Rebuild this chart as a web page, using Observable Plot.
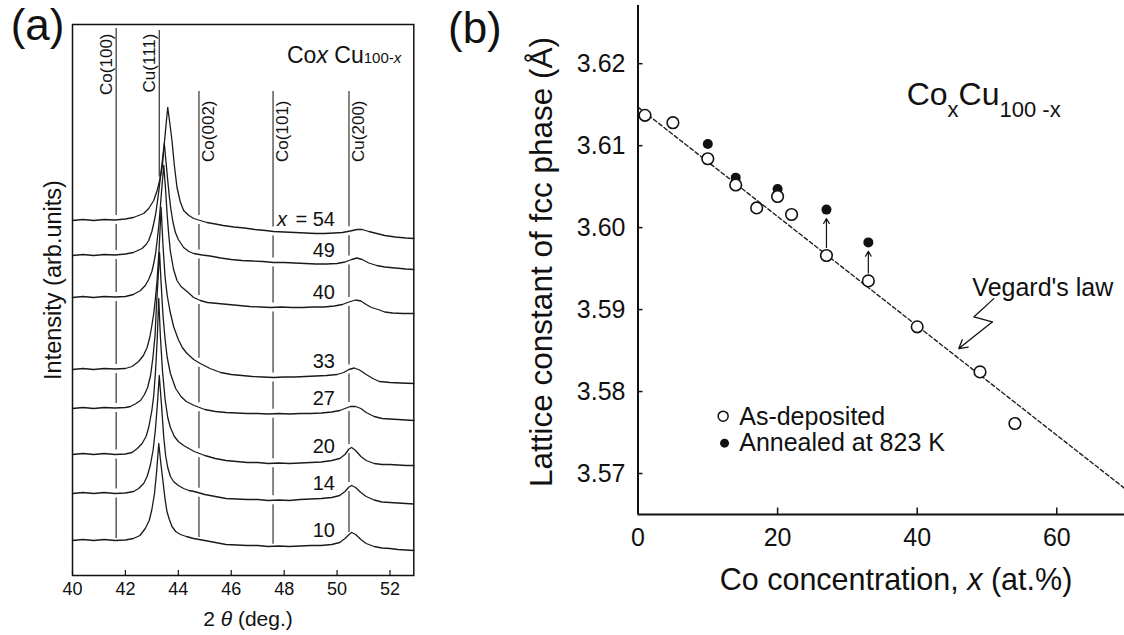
<!DOCTYPE html>
<html><head><meta charset="utf-8">
<script src="https://cdn.jsdelivr.net/npm/d3@7"></script>
<script src="https://cdn.jsdelivr.net/npm/@observablehq/plot@0.6"></script>
<style>
body{margin:0;background:#fff;}
#wrap{position:relative;width:1124px;height:635px;overflow:hidden;background:#fff;}
#pa{position:absolute;left:0;top:0;}
#pb{position:absolute;left:430px;top:0;}
</style></head><body>
<div id="wrap"><div id="pa"></div><div id="pb"></div></div>
<script>
const FONT = '"Liberation Sans", Arial, Helvetica, sans-serif';

// ---------- Panel (a): XRD patterns, [2theta, intensity (arb.)] ----------
const samples = [54, 49, 40, 33, 27, 20, 14, 10];
const xrd54 = [[40,355],[40.4,356],[40.8,355],[41.2,356],[41.6,355.5],[42,356.5],[42.3,358],[42.69,362],[42.88,367],[43.07,375],[43.2,385],[43.32,398],[43.4,410],[43.47,432],[43.54,452],[43.6,468],[43.68,452],[43.76,435],[43.85,410],[43.95,388],[44.07,374],[44.2,365],[44.4,360],[44.58,357],[44.83,355],[45.08,353],[45.4,351.5],[45.7,350],[46.1,348.5],[46.5,347.5],[46.9,346],[47.3,345],[47.6,344],[48,343.5],[48.4,343],[48.8,342.5],[49.2,342],[49.5,342],[49.9,342.5],[50.2,343],[50.5,344.5],[50.75,346],[50.95,346],[51.2,344],[51.5,342],[51.8,340],[52.2,338.5],[52.6,337.5],[52.9,337]];
const xrd49 = [[40,320],[40.4,321],[40.8,320],[41.2,321],[41.6,320.5],[42,321.5],[42.3,323],[42.63,327],[42.78,331],[42.88,335],[43,344],[43.07,352],[43.14,361],[43.2,372],[43.27,386],[43.33,400],[43.4,416],[43.47,432],[43.54,412],[43.6,395],[43.66,379],[43.72,366],[43.8,353],[43.89,343],[44,336],[44.2,328],[44.4,324],[44.58,322],[44.9,320.5],[45.2,319.5],[45.6,317.5],[46,316],[46.4,315],[46.8,314.5],[47.2,314],[47.6,313],[48,313],[48.4,312.5],[48.8,312],[49.2,311.5],[49.6,311.5],[50,312],[50.3,313.5],[50.55,316],[50.75,317.5],[50.95,316],[51.2,312.5],[51.5,310],[51.8,308.5],[52.2,307.5],[52.6,306.5],[52.9,306]];
const xrd40 = [[40,278],[40.4,279],[40.8,278],[41.2,279],[41.6,278.5],[42,279],[42.3,281],[42.57,285],[42.75,290],[42.88,296],[43,304],[43.07,312],[43.14,322],[43.2,335],[43.27,352],[43.33,372],[43.39,392],[43.45,410],[43.52,385],[43.58,360],[43.64,340],[43.7,324],[43.82,306],[43.95,295],[44.1,289],[44.33,284],[44.58,278],[44.83,275],[45.1,273],[45.5,272],[45.9,271],[46.3,270],[46.7,269],[47.1,268.5],[47.5,268],[47.9,268.5],[48.3,268],[48.7,268],[49.1,268.5],[49.5,268.5],[49.9,269.5],[50.2,271],[50.45,273.5],[50.7,275.5],[50.9,274.5],[51.1,271],[51.3,268],[51.55,266],[51.8,263.5],[52.1,262.5],[52.5,262],[52.9,262]];
const xrd33 = [[40,206],[40.4,207],[40.8,206],[41.2,207],[41.6,206.5],[42,207],[42.25,209],[42.5,214],[42.68,220],[42.82,228],[42.92,238],[43,250],[43.07,262],[43.13,276],[43.2,296],[43.27,325],[43.35,368],[43.42,330],[43.5,298],[43.58,280],[43.68,265],[43.82,249],[44,236],[44.15,228],[44.33,222],[44.58,216],[44.83,212],[45.2,207],[45.6,203],[46,201],[46.4,200],[46.8,199],[47.2,198.5],[47.6,198],[48,198.5],[48.4,198.5],[48.8,199],[49.2,199.5],[49.6,200],[50,201],[50.25,203],[50.45,206],[50.65,207.5],[50.85,205.5],[51.1,201],[51.35,197],[51.6,194],[52,193],[52.4,192.5],[52.9,192]];
const xrd27 = [[40,167],[40.4,168],[40.8,167],[41.2,168],[41.6,167.5],[42,168],[42.19,169],[42.4,172],[42.57,175],[42.72,181],[42.84,188],[42.95,200],[43.04,218],[43.12,240],[43.17,268],[43.23,295],[43.29,323],[43.35,292],[43.42,260],[43.5,236],[43.58,218],[43.7,202],[43.9,187],[44.1,179],[44.3,174],[44.6,170],[45,166],[45.4,164],[45.8,163],[46.2,162.5],[46.6,162],[47,162],[47.4,161.5],[47.8,162],[48.2,161.5],[48.6,162],[49,162],[49.4,162.5],[49.8,163.5],[50.1,165],[50.3,167],[50.5,169],[50.7,169],[50.9,167],[51.1,163],[51.4,159],[51.7,157],[52,156.5],[52.3,156],[52.6,155.5],[52.9,155]];
const xrd20 = [[40,121],[40.4,122],[40.8,121],[41.2,122],[41.6,121],[42,121.5],[42.25,123],[42.45,127],[42.63,132],[42.78,139],[42.88,148],[43,165],[43.07,180],[43.14,205],[43.2,235],[43.26,277],[43.32,240],[43.4,205],[43.5,176],[43.6,158],[43.7,148],[43.85,139],[44,134],[44.2,130],[44.4,127],[44.6,124],[45,120],[45.4,117],[45.8,115],[46.2,114],[46.6,113],[47,113],[47.4,112],[47.8,112.5],[48.2,112],[48.6,112.5],[49,113],[49.4,113.5],[49.8,115],[50.1,117],[50.3,121],[50.45,126.5],[50.55,128],[50.7,125],[50.9,119],[51.1,115],[51.4,112],[51.7,111],[52,111],[52.3,110.5],[52.6,110],[52.9,110]];
const xrd14 = [[40,82],[40.4,83],[40.8,82],[41.2,83],[41.6,82],[42,82.5],[42.31,84],[42.5,87],[42.69,92],[42.82,99],[42.94,110],[43.05,126],[43.13,145],[43.2,168],[43.28,200],[43.36,172],[43.45,138],[43.52,120],[43.6,108],[43.7,99],[43.82,94],[44,90],[44.2,87],[44.4,85],[44.6,84],[45,81],[45.4,79],[45.8,77],[46.2,76.5],[46.6,76],[47,76],[47.4,75],[47.8,75.5],[48.2,75],[48.6,76],[49,76.5],[49.4,77],[49.8,78],[50.1,80],[50.3,84],[50.45,88.5],[50.55,90],[50.7,88],[50.9,83],[51.1,79],[51.4,75.5],[51.7,73.5],[52,73],[52.3,72.5],[52.6,72],[52.9,71.5]];
const xrd10 = [[40,35],[40.4,36],[40.8,35],[41.2,36],[41.6,35],[42,35.5],[42.3,37],[42.55,40],[42.75,47],[42.9,55],[43,66],[43.1,82],[43.18,104],[43.26,132],[43.34,112],[43.42,94],[43.5,76],[43.57,64],[43.66,56],[43.76,49],[43.9,44],[44.08,41],[44.3,39],[44.58,37],[45,35],[45.4,33],[45.8,31],[46.2,30.5],[46.6,30],[47,30],[47.4,29],[47.8,29.5],[48.2,29],[48.6,29.5],[49,30],[49.4,30],[49.8,31],[50.1,33],[50.3,37],[50.45,41],[50.55,43],[50.7,41],[50.9,36],[51.1,32],[51.4,29],[51.7,27.5],[52,27],[52.3,26],[52.6,25.5],[52.9,25]];
const xrdCurves = [xrd54, xrd49, xrd40, xrd33, xrd27, xrd20, xrd14, xrd10];
const refPeaks = ["Co(100)", "Cu(111)", "Co(002)", "Co(101)", "Cu(200)"];
const refPos = [41.65, 43.28, 44.78, 47.58, 50.45];
const ticksA = [40, 42, 44, 46, 48, 50, 52];

// ---------- Panel (b): lattice constant vs Co concentration ----------
const coConc = [1, 5, 10, 14, 17, 20, 22, 27, 33, 40, 49, 54];
const asDeposited = [3.6137, 3.6128, 3.6084, 3.6052, 3.6024, 3.6038, 3.6016, 3.5966, 3.5935, 3.5879, 3.5824, 3.5761];
const annealedConc = [10, 14, 20, 27, 33];
const annealed = [3.6102, 3.6061, 3.6047, 3.6022, 3.5982];
const shiftArrowConc = [27, 33];
const vegardConc = [0, 69.7];
const vegardA = [3.6147, 3.5682];
const ticksBx = [0, 20, 40, 60];
const ticksBy = [3.57, 3.58, 3.59, 3.60, 3.61, 3.62];
const legendLabels = ["As-deposited", "Annealed at 823 K"];

// ---------- helpers ----------
function valueAt(pts, t) {
  for (let i = 1; i < pts.length; i++) {
    if (pts[i][0] >= t) {
      const [t0, h0] = pts[i - 1], [t1, h1] = pts[i];
      return h0 + (h1 - h0) * (t - t0) / (t1 - t0);
    }
  }
  return pts[pts.length - 1][1];
}
function richText(svg, x, y, parts, {anchor = "start", rotate = 0, size = 20} = {}) {
  const t = d3.select(svg).append("text")
    .attr("transform", `translate(${x},${y}) rotate(${rotate})`)
    .attr("text-anchor", anchor).attr("font-size", size)
    .attr("font-family", FONT).attr("fill", "#111");
  for (const p of parts) {
    const s = t.append("tspan").text(p.t);
    if (p.italic) s.attr("font-style", "italic");
    if (p.size) s.attr("font-size", p.size);
    if (p.dy) s.attr("dy", p.dy);
  }
}

// ---------- Panel (a) ----------
const rowsA = xrdCurves.flatMap((pts, i) => pts.map(([t, h]) => ({t, h, s: samples[i]})));
const gapH = 4.5;
const refTop = [547, 545, 484, 484, 484];
const refThrough = [true, false, true, true, true];
const refSegs = [];
refPos.forEach((p, i) => {
  const vals = xrdCurves.map(c => valueAt(c, p));
  const top = refTop[i];
  let bottom, cuts;
  if (refThrough[i]) {
    bottom = vals[vals.length - 1] + 2;
    cuts = vals.slice(0, -1).filter(v => v > bottom && v < top).sort((a, b) => a - b);
  } else {
    bottom = Math.max(...vals) + gapH;
    cuts = [];
  }
  let y0 = bottom;
  for (const v of cuts) {
    if (v - gapH > y0) refSegs.push({p, y1: y0, y2: v - gapH});
    y0 = v + gapH;
  }
  if (top > y0) refSegs.push({p, y1: y0, y2: top});
});
const labelRows = samples.map((s, i) => ({s, h: valueAt(xrdCurves[i], 49.9) + 13}));

const plotA = Plot.plot({
  width: 430, height: 635,
  marginLeft: 72, marginRight: 16.7, marginTop: 24, marginBottom: 60,
  style: {fontFamily: FONT, fontSize: "18px", color: "#111", background: "transparent"},
  x: {domain: [40, 52.9], ticks: ticksA, tickSize: 0, tickPadding: 7, label: null},
  y: {domain: [0, 551], axis: null},
  marks: [
    Plot.ruleX(refSegs, {x: "p", y1: "y1", y2: "y2", stroke: "#333", strokeWidth: 1.2}),
    Plot.text(refPeaks.slice(0, 2), {x: (d, i) => refPos[i], y: () => 542, rotate: -90, textAnchor: "end", dx: -10, fontSize: 17, fill: "#111"}),
    Plot.text(refPeaks.slice(2), {x: (d, i) => refPos[i + 2], y: () => 475, rotate: -90, textAnchor: "end", dx: 10, fontSize: 17, fill: "#111"}),
    Plot.line(rowsA, {x: "t", y: "h", z: "s", stroke: "#1a1a1a", strokeWidth: 1.3, curve: "linear"}),
    Plot.text(labelRows, {x: () => 49.92, y: "h", text: d => d.s === 54 ? "= 54" : String(d.s), textAnchor: "end", fontSize: 20, fill: "#111"}),
    Plot.text(labelRows.filter(d => d.s === 54), {x: () => 49.92, y: "h", text: () => "x", fontStyle: "italic", textAnchor: "end", dx: -48, fontSize: 20, fill: "#111"}),
    Plot.tickX(ticksA, {x: d => d, insetTop: 546, stroke: "#111", strokeWidth: 1.2}),
    Plot.frame({stroke: "#111", strokeWidth: 1.5})
  ]
});
document.getElementById("pa").appendChild(plotA);
richText(plotA, 10.7, 40, [{t: "(a)"}], {size: 44});
richText(plotA, 60.5, 280, [{t: "Intensity (arb.units)"}], {anchor: "middle", rotate: -90, size: 23.5});
richText(plotA, 248, 626, [{t: "2 "}, {t: "θ", italic: true}, {t: " (deg.)"}], {anchor: "middle", size: 21});
richText(plotA, 287, 63.3, [{t: "Co"}, {t: "x", italic: true}, {t: " Cu"}, {t: "100-", size: 15}, {t: "x", italic: true, size: 15}], {size: 23});

// ---------- Panel (b) ----------
const asDepAt = c => asDeposited[coConc.indexOf(c)];
const annAt = c => annealed[annealedConc.indexOf(c)];
const frameHB = 514 - 5, frameWB = 694 - 207.5;
const plotB = Plot.plot({
  width: 694, height: 635,
  marginLeft: 207.5, marginRight: 0, marginTop: 5, marginBottom: 121,
  style: {fontFamily: FONT, fontSize: "25px", color: "#111", background: "transparent"},
  x: {domain: [0, 69.7], ticks: ticksBx, tickSize: 0, tickPadding: 13.7, label: null},
  y: {domain: [3.565, 3.6271], ticks: ticksBy, tickFormat: ".2f", tickSize: 0, tickPadding: 12.5, label: null},
  marks: [
    Plot.line(vegardConc, {x: d => d, y: (d, i) => vegardA[i], stroke: "#222", strokeWidth: 1.4, strokeDasharray: "4,2.6"}),
    Plot.arrow(shiftArrowConc, {x1: c => c, x2: c => c, y1: asDepAt, y2: annAt, insetStart: 8, insetEnd: 9, headLength: 7, stroke: "#111", strokeWidth: 1.2}),
    Plot.dot(annealedConc, {x: d => d, y: (d, i) => annealed[i], r: 5, fill: "#111", stroke: "none"}),
    Plot.dot(coConc, {x: d => d, y: (d, i) => asDeposited[i], r: 5.8, fill: "white", stroke: "#111", strokeWidth: 1.6}),
    // Vegard's law annotation
    Plot.text(["Vegard's law"], {x: () => 47.9, y: () => 3.5926, textAnchor: "start", fontSize: 25, fill: "#111"}),
    Plot.line([[50.97, 3.59134], [48.11, 3.5891], [50.75, 3.58849]], {x: d => d[0], y: d => d[1], stroke: "#111", strokeWidth: 1.3}),
    Plot.arrow([0], {x1: () => 50.75, y1: () => 3.58849, x2: () => 45.96, y2: () => 3.58524, headLength: 11, stroke: "#111", strokeWidth: 1.3}),
    // legend
    Plot.dot(legendLabels.slice(0, 1), {x: () => 12.2, y: () => 3.5770, r: 5, fill: "white", stroke: "#111", strokeWidth: 1.5}),
    Plot.dot(legendLabels.slice(1), {x: () => 12.4, y: () => 3.5737, r: 4.5, fill: "#111", stroke: "none"}),
    Plot.text(legendLabels, {x: () => 14.5, y: (d, i) => [3.5769, 3.5737][i], textAnchor: "start", fontSize: 25, fill: "#111"}),
    // axes lines and inward ticks
    Plot.ruleX([0], {stroke: "#111", strokeWidth: 2}),
    Plot.ruleY([3.565], {stroke: "#111", strokeWidth: 2}),
    Plot.tickX(ticksBx, {x: d => d, insetTop: frameHB - 6.5, stroke: "#111", strokeWidth: 1.5}),
    Plot.tickY(ticksBy, {y: d => d, insetRight: frameWB - 5, stroke: "#111", strokeWidth: 1.5})
  ]
});
document.getElementById("pb").appendChild(plotB);
richText(plotB, 18, 43, [{t: "(b)"}], {size: 44});
richText(plotB, 121.5, 262, [{t: "Lattice constant of fcc phase (Å)"}], {anchor: "middle", rotate: -90, size: 31.5});
richText(plotB, 466, 590, [{t: "Co concentration, "}, {t: "x", italic: true}, {t: " (at.%)"}], {anchor: "middle", size: 30.5});
richText(plotB, 476.7, 105, [{t: "Co"}, {t: "x", size: 22, dy: 12}, {t: "Cu", dy: -12}, {t: "100 -x", size: 22, dy: 12}], {size: 32});
</script>
</body></html>
